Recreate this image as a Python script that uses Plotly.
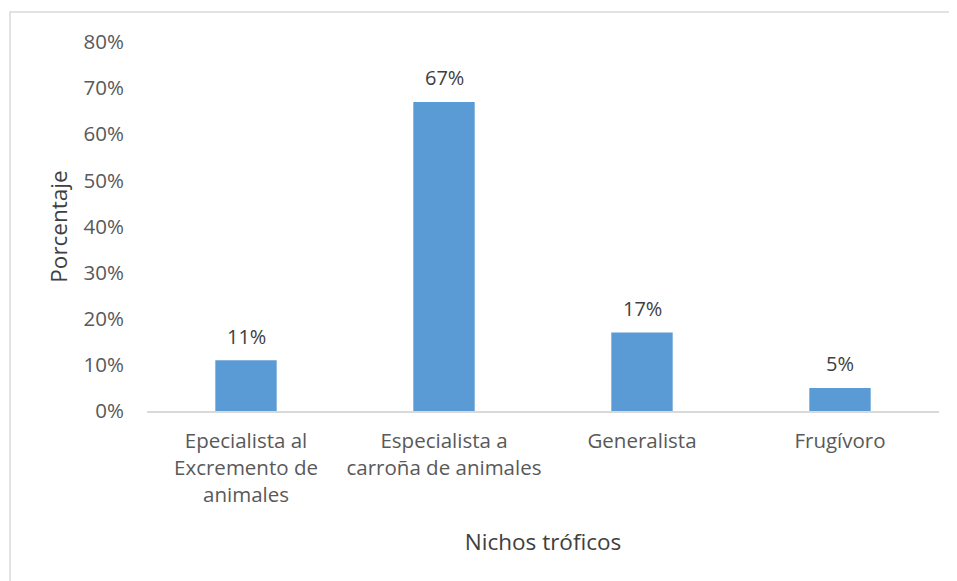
import plotly.graph_objects as go

categories = ["Epecialista al<br>Excremento de<br>animales", "Especialista a<br>carroña de animales", "Generalista", "Frugívoro"]
values = [0.11, 0.67, 0.17, 0.05]
labels = ["11%", "67%", "17%", "5%"]
yticks = [0, 0.1, 0.2, 0.3, 0.4, 0.5, 0.6, 0.7, 0.8]
yticklabels = ["0%", "10%", "20%", "30%", "40%", "50%", "60%", "70%", "80%"]

# page body has an 8px margin, so the figure is drawn 8px in from the window edge
W, H = 949, 573
L, R, T, B = 139, 18, 34, 170
pw, ph = W - L - R, H - T - B

FONT = "Open Sans"
GREY = "#595959"

fig = go.Figure(go.Bar(
    x=categories, y=values,
    marker=dict(color="#5B9BD5", line=dict(width=0)),
    cliponaxis=False,
))

for c, v, t in zip(categories, values, labels):
    fig.add_annotation(x=c, y=v, text=t, showarrow=False, yanchor="middle", yshift=24,
                       font=dict(family=FONT, size=20, color="#404040"))

def px_x(x):
    return (x - L) / pw

def px_y(y):
    return (H - B - y) / ph

fig.update_layout(
    width=W, height=H,
    margin=dict(l=L, r=R, t=T, b=B),
    paper_bgcolor="white", plot_bgcolor="white",
    bargap=0.69,
    showlegend=False,
    font=dict(family=FONT, size=20, color=GREY),
    xaxis=dict(showline=True, linecolor="#D9D9D9", linewidth=1.5, ticks="",
               ticklabelstandoff=11,
               tickfont=dict(family=FONT, size=20.5, color=GREY),
               title=dict(text="Nichos tróficos", font=dict(family=FONT, size=22.5, color="#404040"), standoff=28)),
    yaxis=dict(range=[0, 0.8], tickvals=yticks, ticktext=yticklabels, showgrid=False,
               zeroline=False, showline=False, ticks="", ticklabelstandoff=22,
               tickfont=dict(family=FONT, size=20.5, color=GREY),
               title=dict(text="Porcentaje", font=dict(family=FONT, size=22.5, color="#404040"), standoff=9)),
    shapes=[dict(type="rect", xref="paper", yref="paper",
                 x0=px_x(2), x1=px_x(1000), y0=px_y(4), y1=px_y(640),
                 line=dict(color="#D9D9D9", width=1.5), fillcolor="rgba(0,0,0,0)", layer="below")],
)

fig.write_html("out.html")
